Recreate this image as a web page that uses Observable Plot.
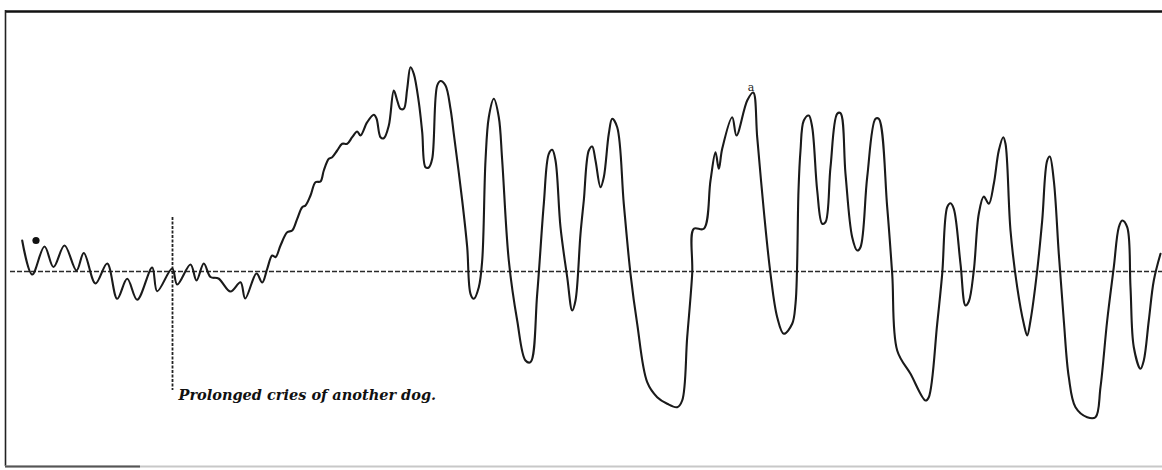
<!DOCTYPE html>
<html>
<head>
<meta charset="utf-8">
<script src="https://cdn.jsdelivr.net/npm/d3@7"></script>
<script src="https://cdn.jsdelivr.net/npm/@observablehq/plot@0.6"></script>
<style>
  html, body { margin: 0; padding: 0; background: #fff; }
  #chart { width: 1162px; height: 470px; }
</style>
</head>
<body>
<div id="chart"></div>
<script>
// Time along the tracing (drum units) and displacement from the base line
const time = [
  21.7, 31.7, 44, 53, 64, 76, 83.3, 95, 106.7, 116.7, 126.7, 136.7, 151.7, 156.7, 171.7, 176.7,
  190, 196, 203.3, 210, 218, 230, 240, 244.7, 256, 261.7, 266.7, 271.7, 275, 280, 286.7, 291.7,
  296.7, 301.7, 305, 310, 315, 320, 323.3, 328.3, 331.7, 336.7, 341.7, 346.7, 351.7, 356.7, 360,
  366.7, 373.3, 376, 380, 383.3, 388.3, 393.3, 396.7, 400, 403.3, 406.7, 410, 413.3, 418.3, 421.7,
  425, 428.3, 431.7, 436.7, 440, 445, 450, 453.3, 461.7, 466.7, 470, 473.3, 478.3, 481.7, 485,
  488.3, 493.3, 498.3, 501.7, 508.3, 516.7, 525, 530, 536.7, 543.3, 548.3, 551.7, 555, 560, 566.7,
  571.7, 575, 580, 583.3, 588.3, 591.7, 595, 600, 603.3, 608.3, 611.7, 616.7, 623.3, 630, 636.7,
  646.7, 656.7, 666.7, 676.7, 681.7, 686.7, 691.7, 693.3, 703.3, 710, 715, 718.3, 721.7, 731.7,
  736, 746.7, 752.7, 756.7, 763.3, 770, 776.7, 783.3, 791.7, 795, 796.5, 798, 800, 803.3, 808.3,
  811.7, 816.7, 821.7, 825, 830, 836.7, 840, 845, 851.7, 856.7, 860, 866.7, 875, 878.3, 886.7,
  891.7, 896.7, 910, 925, 928.3, 936.7, 941.7, 946.7, 950, 953.3, 960, 965, 968.3, 973.3, 978.3,
  983.3, 988.3, 993.3, 998.3, 1002.7, 1005, 1010, 1016.7, 1023.3, 1026.7, 1030, 1036.7, 1041.7,
  1046.7, 1049.3, 1053.3, 1058.3, 1063.3, 1068.3, 1075, 1086.7, 1095, 1100, 1106.7, 1113.3, 1118.3,
  1121.7, 1126.7, 1130, 1133.3, 1140, 1143.3, 1148.3, 1153.3, 1160
];
const displacement = [
  31, -3, 25, 4.5, 26, 1, 18.5, -12, 8, -27.3, -7.3, -28.3, 4, -19.7, 3, -13,
  7, -9, 8, -5.5, -7, -20, -10.7, -27, -2, -11, 2.7, 16, 14.3, 26, 39.3, 41,
  52.7, 64.3, 66, 76, 89.3, 90, 101, 112.7, 114.3, 121, 127.7, 127.7, 134.3, 140, 136,
  149.3, 156.7, 153, 134.3, 133.3, 146, 181, 171, 162.7, 162.7, 182.7, 204.3, 197.7, 169.3, 139.3,
  104.3, 104, 112.7, 186, 190.5, 186, 162.7, 137.7, 71, 24.3, -22.3, -27.3, -15.7, 11, 111,
  154.3, 172.7, 154.3, 111, 11, -49, -89, -90.7, -22.3, 67.7, 117.7, 121.7, 111, 44.3, -5.7,
  -39, -29, 37.7, 71, 121, 125, 111, 84.3, 94.3, 137.7, 152.7, 144.3, 67.7, -2.3, -52.3,
  -110.7, -125.7, -132.3, -135.7, -129, -65.7, -2.3, 42.7, 42.7, 91, 119.3, 102.7, 122.7, 154.3,
  136, 171, 179, 134.3, 61, -2.3, -45.7, -62.3, -52.3, -32.3, 1, 81, 121, 151, 156,
  144.3, 81, 47.7, 49.3, 104.3, 157.7, 158.3, 97.7, 34.3, 21, 24.3, 94.3, 152.7, 152.7, 64.3,
  -2.3, -79, -102.3, -129, -125.7, -52.3, -2.3, 64.3, 68.3, 62.7, 7.7, -34, -30, 1, 57.7,
  75, 67.7, 87.7, 121, 134.3, 127.7, 41, -15.7, -52.3, -64, -49, 1, 51,
  111, 115, 91, 17.7, -49, -105.7, -135.7, -145.7, -145.7, -115.7, -49, 4.3, 44.3,
  51, 44.3, -15.7, -75.7, -97.3, -89, -49, -9, 17.7
];

// Event marker: onset of the other dog's cries
const eventTime = [172];
const eventSpan = [54, -119];
const eventLabel = ["Prolonged cries of another dog."];

// Starting dot and the mark "a"
const startDot = [{t: 35.5, v: 31}];
const markA = [{t: 750.5, v: 184, label: "a"}];

const series = time.map((t, i) => ({t, v: displacement[i]}));

const chart = Plot.plot({
  width: 1162,
  height: 470,
  margin: 0,
  marginTop: 0, marginRight: 0, marginBottom: 0, marginLeft: 0,
  style: {background: "#fff"},
  x: {domain: [0, 1162], axis: null},
  y: {domain: [-199, 271], axis: null},
  marks: [
    // frame of the plate
    Plot.ruleY([260], {x1: 5, x2: 1162, stroke: "#111", strokeWidth: 2.6}),
    Plot.ruleX([5], {y1: 261, y2: -195, stroke: "#222", strokeWidth: 1.6}),
    Plot.ruleY([-195], {x1: 5, x2: 1162, stroke: "#c8c8c8", strokeWidth: 2}),
    Plot.ruleY([-195], {x1: 5, x2: 140, stroke: "#555", strokeWidth: 2}),
    // base line
    Plot.ruleY([0], {x1: 10, x2: 1162, stroke: "#2a2a2a", strokeWidth: 1.6, strokeDasharray: "5,2"}),
    // event marker
    Plot.ruleX(eventTime, {y1: eventSpan[0], y2: eventSpan[1], stroke: "#222", strokeWidth: 1.8, strokeDasharray: "3,1.5"}),
    Plot.text(eventLabel, {
      x: eventTime[0] + 6, y: -124, text: d => d, textAnchor: "start",
      fontFamily: "DejaVu Serif", fontStyle: "italic", fontWeight: "bold", fontSize: 14.5, fill: "#111"
    }),
    // tracing
    Plot.line(series, {x: "t", y: "v", curve: "catmull-rom", stroke: "#1a1a1a", strokeWidth: 2.1}),
    Plot.dot(startDot, {x: "t", y: "v", r: 3.6, fill: "#111", stroke: "none"}),
    Plot.text(markA, {x: "t", y: "v", text: "label", fontFamily: "DejaVu Serif", fontSize: 11, fill: "#222"})
  ]
});
document.getElementById("chart").appendChild(chart);
</script>
</body>
</html>
